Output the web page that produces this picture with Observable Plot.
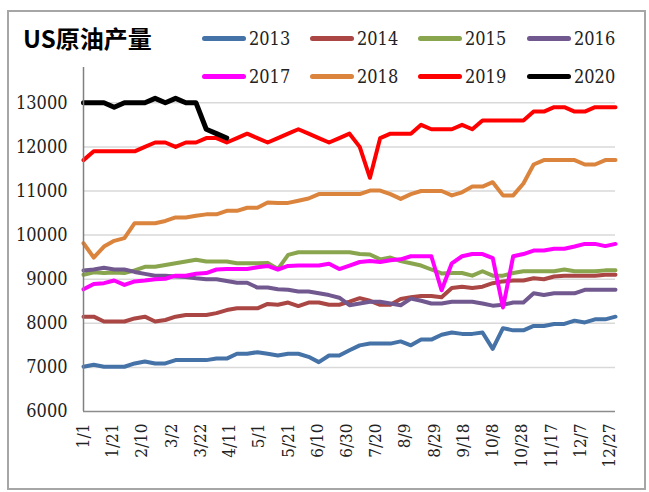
<!DOCTYPE html>
<html><head><meta charset="utf-8">
<script src="https://cdn.jsdelivr.net/npm/d3@7"></script>
<script src="https://cdn.jsdelivr.net/npm/@observablehq/plot@0.6"></script>
<style>
html,body{margin:0;padding:0;background:#fff;}
#wrap{position:relative;width:649px;height:492px;overflow:hidden;background:#fff;}
#frame{position:absolute;left:7px;top:10px;width:639px;height:480px;box-sizing:border-box;border:2px solid #a6a6a6;}
#title{position:absolute;left:23px;top:22px;font-family:"Noto Sans CJK SC",sans-serif;font-weight:bold;font-size:24px;line-height:32px;color:#000;white-space:nowrap;}
#chart{position:absolute;left:0;top:0;}
.leg{position:absolute;height:24px;display:flex;align-items:center;font-family:"DejaVu Serif Condensed","DejaVu Serif",serif;font-stretch:condensed;font-size:18px;color:#222;white-space:nowrap;}
.leg .sw{display:inline-block;width:44px;height:5px;border-radius:3px;margin-right:3px;}
#chart svg text{font-family:"DejaVu Serif Condensed","DejaVu Serif",serif !important;font-stretch:condensed;font-variant-numeric:normal !important;}
</style>
</head><body>
<div id="wrap">
  <div id="frame"></div>
  <div id="chart"></div>
  <div id="title">US原油产量</div>
  <div id="legend"></div>
</div>
<script>
// ---- data ----
const years = ["2013","2014","2015","2016","2017","2018","2019","2020"];
const colors = ["#4572A7","#AA4643","#89A54E","#71588F","#FF00FF","#DB843D","#FF0000","#000000"];

const v2013 = [7015,7060,7015,7015,7015,7090,7135,7090,7090,7165,
  7165,7165,7165,7200,7200,7310,7310,7345,7310,
  7270,7310,7310,7240,7120,7270,7270,7390,7500,7540,7540,
  7540,7590,7500,7630,7630,7740,
  7790,7760,7760,7790,7420,7890,7840,7840,7940,7940,7985,7985,8060,8020,8090,8090,8150];
const v2014 = [8150,8150,8040,8040,8040,8110,8150,8040,8075,8150,8190,8190,8190,8230,8300,8340,8340,8340,8440,
  8420,8470,8390,8470,8470,8420,8420,8490,8570,8510,8420,8420,8550,8590,8620,8620,8590,
  8800,8830,8800,8830,8910,8950,8970,8970,9020,9000,9060,9080,9080,9080,9080,9100,9100];
const v2015 = [9100,9156,9140,9150,9140,9200,9280,9280,9320,9360,9400,9440,9400,9400,9400,9360,9360,9360,9370,
  9230,9550,9610,9610,9610,9610,9610,9610,9570,9560,9450,9490,9410,9360,9310,9220,9130,
  9140,9140,9080,9180,9080,9080,9140,9180,9180,9180,9180,9220,9180,9180,9180,9200,9200];
const v2016 = [9195,9220,9260,9220,9220,9165,9120,9080,9080,9060,9050,9020,9000,9000,8960,8920,8920,8810,8810,
  8770,8760,8720,8720,8680,8640,8580,8410,8450,8490,8490,8450,8410,8560,8510,8450,8450,
  8490,8490,8490,8450,8400,8420,8470,8470,8680,8640,8680,8680,8680,8760,8760,8760,8760];
const v2017 = [8770,8890,8910,8970,8870,8950,8970,9000,9010,9080,9080,9125,9140,9220,9230,9230,9230,9270,9300,
  9220,9300,9310,9310,9310,9350,9230,9310,9390,9410,9390,9430,9450,9520,9520,9520,8750,
  9360,9520,9570,9570,9480,8360,9520,9570,9650,9650,9690,9690,9740,9800,9800,9750,9800];
const v2018 = [9815,9490,9740,9870,9930,10270,10270,10270,10320,10400,10400,10440,10470,10470,10550,10550,10620,10620,10740,
  10730,10730,10780,10830,10930,10930,10930,10930,10930,11010,11010,10930,10820,10930,11000,11000,11000,
  10900,10970,11100,11100,11200,10900,10900,11170,11600,11700,11700,11700,11700,11600,11600,11700,11700];
const v2019 = [11700,11900,11900,11900,11900,11900,12000,12100,12100,12000,12100,12100,12200,12200,12100,12200,12300,12200,12100,
  12200,12300,12400,12300,12200,12100,12200,12300,12000,11300,12200,12300,12300,12300,12500,12400,12400,
  12400,12500,12400,12600,12600,12600,12600,12600,12800,12800,12900,12900,12800,12800,12900,12900,12900];
const v2020 = [13000,13000,13000,12900,13000,13000,13000,13100,13000,13100,13000,13000,12400,12300,12200];

const seriesValues = [v2013,v2014,v2015,v2016,v2017,v2018,v2019,v2020];

const xTickDays = [0,20,40,60,80,100,120,140,160,180,200,220,240,260,280,300,320,340,360];
const xTickLabels = ["1/1","1/21","2/10","3/2","3/22","4/11","5/1","5/21","6/10","6/30","7/20","8/9","8/29","9/18","10/8","10/28","11/17","12/7","12/27"];
const yTicks = [6000,7000,8000,9000,10000,11000,12000,13000];

// ---- build ----
const lineMarks = seriesValues.map((vals, k) => {
  const rows = vals.map((v, i) => ({day: i * 7, value: v}));
  return Plot.line(rows, {x: "day", y: "value", stroke: colors[k], strokeWidth: k === 7 ? 5 : 4, strokeLinejoin: "round", strokeLinecap: "round"});
});

const serif = '"DejaVu Serif Condensed","DejaVu Serif",serif';
const chart = Plot.plot({
  width: 649, height: 492,
  marginLeft: 83, marginRight: 34, marginTop: 67, marginBottom: 81,
  style: {fontSize: "17px", fontFamily: serif, color: "#222", background: "transparent"},
  x: {domain: [0, 364]},
  y: {domain: [6000, 13800]},
  marks: [
    Plot.ruleY(yTicks.filter(v => v > 6000), {stroke: "#d9d9d9", strokeWidth: 1.5}),
    Plot.axisX({ticks: xTickDays, tickFormat: d => xTickLabels[xTickDays.indexOf(d)], tickRotate: -90, tickSize: 0, tickPadding: 12, label: null, fontFamily: serif}),
    Plot.axisY({ticks: yTicks, tickFormat: d => String(d), tickSize: 0, tickPadding: 16, label: null, fontSize: 18, fontFamily: serif, fontVariant: "normal"}),
    ...lineMarks,
    Plot.ruleX([0], {y1: 6000, y2: 13800, stroke: "#808080", strokeWidth: 1.5}),
    Plot.ruleY([6000], {stroke: "#8c8c8c", strokeWidth: 1.5})
  ]
});
document.getElementById("chart").appendChild(chart);

// ---- legend ----
const legX = [202, 310, 418, 527];
const legY = [26, 64];
const legend = document.getElementById("legend");
years.forEach((y, k) => {
  const d = document.createElement("div");
  d.className = "leg";
  d.style.left = legX[k % 4] + "px";
  d.style.top = legY[Math.floor(k / 4)] + "px";
  d.innerHTML = `<span class="sw" style="background:${colors[k]}"></span><span>${y}</span>`;
  legend.appendChild(d);
});
</script>
</body></html>
